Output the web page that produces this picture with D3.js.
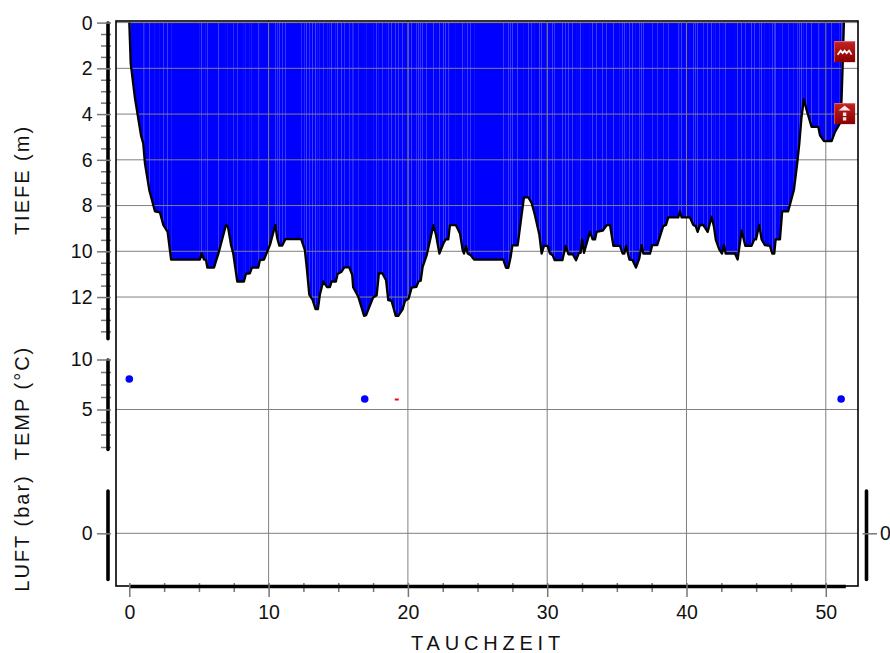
<!DOCTYPE html>
<html>
<head>
<meta charset="utf-8">
<script src="https://cdn.jsdelivr.net/npm/d3@7"></script>
<style>
  html, body { margin: 0; padding: 0; background: #fff; }
  text { font-family: "Liberation Sans", Arial, sans-serif; fill: #111; }
</style>
</head>
<body>
<svg id="chart" width="890" height="653"></svg>
<script>
// dive profile: minutes / metres
const diveTimes = [0,0.1,0.41,0.84,1,1.12,1.44,1.84,2.2,2.44,2.75,3,5.07,5.19,5.36,5.5,5.6,6.08,6.4,6.94,7.08,7.3,7.46,7.75,8.23,8.37,8.66,8.8,9.26,9.38,9.67,10.1,10.48,10.62,10.77,10.98,11.2,12.34,12.6,12.73,12.92,13.16,13.37,13.54,13.68,13.92,14.2,14.4,14.52,14.83,14.95,15.24,15.43,15.79,16,16.07,16.43,16.85,17,17.5,17.76,17.92,18.16,18.43,18.59,18.83,19.12,19.31,19.62,19.79,20.05,20.27,20.6,20.75,20.92,21.06,21.35,21.83,22.02,22.26,22.55,22.71,22.9,23.02,23.45,23.74,23.93,24.03,24.17,24.29,24.51,24.75,26.85,27.04,27.21,27.38,27.5,27.88,28.33,28.65,28.89,29.12,29.44,29.6,29.77,30.03,30.2,30.39,30.54,31.09,31.33,31.52,31.83,32.07,32.28,32.4,32.5,32.64,33.07,33.26,33.43,33.55,33.98,34.27,34.51,34.75,35.22,35.42,35.54,35.66,35.9,36.13,36.37,36.61,36.78,36.9,37.38,37.54,37.9,38.33,38.53,38.69,39.41,39.53,39.65,40.25,40.49,40.66,40.8,40.97,41.2,41.52,41.8,41.97,42.11,42.35,42.55,42.69,42.81,43.48,43.67,43.96,44.22,44.67,44.87,44.99,45.22,45.39,45.63,45.99,46.16,46.3,46.4,46.71,46.87,47.3,47.71,47.95,48.1,48.26,48.43,48.62,48.98,49.46,49.58,49.87,50.42,50.66,51.01,51.13,51.2,51.3];
const diveDepths = [0,1.78,3.32,4.93,5.28,6.14,7.34,8.25,8.3,8.85,9.15,10.36,10.36,10.09,10.36,10.36,10.71,10.71,10.09,8.85,8.92,9.72,10.09,11.32,11.32,10.99,10.96,10.71,10.71,10.38,10.36,9.72,8.85,9.43,9.75,9.75,9.47,9.47,9.94,10.66,11.9,12.13,12.53,12.53,11.9,11.32,11.57,11.57,11.32,11.32,10.99,10.89,10.7,10.7,11.03,11.57,11.97,12.82,12.79,12.02,11.92,10.96,10.96,11.26,12.14,12.17,12.82,12.82,12.54,12.17,12.07,11.59,11.56,11.33,11.29,10.68,10.17,8.86,9.29,10.1,9.66,9.48,9.48,8.86,8.86,9.22,9.95,10.1,9.76,10.1,10.17,10.36,10.36,10.72,10.72,10.24,9.74,9.74,7.64,7.64,7.9,8.42,9.29,10.1,9.76,9.76,10.1,10.17,10.39,10.39,9.76,10.13,10.13,10.39,10.07,10.07,9.48,10.07,9.15,9.48,9.48,9.15,9.1,8.86,8.86,9.76,9.76,10.1,10.1,9.76,10.36,10.39,10.71,10.32,9.73,10.1,10.1,9.73,9.73,8.9,8.85,8.52,8.52,8.25,8.52,8.52,8.85,8.9,9.15,8.85,8.85,9.15,8.49,8.93,9.51,9.92,10.1,9.73,10.1,10.1,10.36,9.1,9.76,9.76,9.48,9.48,8.85,9.48,9.73,9.76,10.1,10.1,9.48,9.48,8.25,8.25,7.32,6.14,5.28,4.12,3.35,3.82,4.56,4.56,4.93,5.18,5.18,4.78,4.41,3.39,2.08,0];

const tempTimes = [0, 16.9, 51.1];
const tempValues = [8.05, 6.05, 6.05];
const redMarkTime = 19.2;
const redMarkTemp = 6;

const eventTimes = [51.35, 51.35];
const eventDepths = [1.27, 3.98];
const eventKinds = ["wave", "ascent"];

const timeMajor = [0, 10, 20, 30, 40, 50];
const timeMinor = [2.5, 5, 7.5, 12.5, 15, 17.5, 22.5, 25, 27.5, 32.5, 35, 37.5, 42.5, 45, 47.5];
const depthMajor = [0, 2, 4, 6, 8, 10, 12];
const depthMinor = [0.5, 1, 1.5, 2.5, 3, 3.5, 4.5, 5, 5.5, 6.5, 7, 7.5, 8.5, 9, 9.5, 10.5, 11, 11.5, 12.5, 13, 13.5];
const tempMajor = [5, 10];
const tempMinor = [1.25, 2.5, 3.75, 6.25, 7.5, 8.75];
const airMajor = [0];

const svg = d3.select("#chart");
const frame = { left: 116, right: 858, top: 21, bottom: 586 };
const gridColor = "#808080";

const x = d3.scaleLinear().domain([0, 51.4]).range([129.3, 845.3]);
const yDepth = d3.scaleLinear().domain([0, 13.8]).range([22.6, 338.2]);
const yTemp = d3.scaleLinear().domain([10, 1.05]).range([359.5, 449]);
const yAir = d3.scaleLinear().domain([-1.07, 1]).range([579, 490.6]);

const profile = diveTimes.map((t, i) => ({ t: t, d: diveDepths[i] }));

// every sample gets its own slice, the hairline gaps between them are the light stripes
const slice = d3.area().x(d => x(d.t)).y0(yDepth(0)).y1(d => yDepth(d.d));
svg.append("g").selectAll("path")
  .data(d3.pairs(profile))
  .join("path")
  .attr("d", d => slice(d))
  .attr("fill", "#0000ff");

// grid
const grid = svg.append("g").attr("stroke", gridColor).attr("stroke-width", 1);
depthMajor.forEach(d => {
  grid.append("line").attr("x1", frame.left).attr("x2", frame.right)
    .attr("y1", yDepth(d)).attr("y2", yDepth(d));
});
grid.append("line").attr("x1", frame.left).attr("x2", frame.right)
  .attr("y1", yTemp(5)).attr("y2", yTemp(5));
grid.append("line").attr("x1", frame.left).attr("x2", frame.right)
  .attr("y1", yAir(0)).attr("y2", yAir(0));
timeMajor.filter(t => t > 0).forEach(t => {
  grid.append("line").attr("y1", frame.top).attr("y2", frame.bottom)
    .attr("x1", x(t)).attr("x2", x(t));
});

svg.append("path")
  .datum(profile)
  .attr("fill", "none")
  .attr("stroke", "#000")
  .attr("stroke-width", 2.3)
  .attr("stroke-linejoin", "round")
  .attr("d", d3.line().x(d => x(d.t)).y(d => yDepth(d.d)));

// frame
svg.append("rect")
  .attr("x", frame.left).attr("y", frame.top)
  .attr("width", frame.right - frame.left).attr("height", frame.bottom - frame.top)
  .attr("fill", "none").attr("stroke", "#000").attr("stroke-width", 1.6);

// temperature marks
svg.append("g").selectAll("circle")
  .data(tempTimes)
  .join("circle")
  .attr("cx", d => x(d))
  .attr("cy", (d, i) => yTemp(tempValues[i]))
  .attr("r", 3.8)
  .attr("fill", "#0000ff");
svg.append("line")
  .attr("x1", x(redMarkTime) - 2).attr("x2", x(redMarkTime) + 2)
  .attr("y1", yTemp(redMarkTemp)).attr("y2", yTemp(redMarkTemp))
  .attr("stroke", "#ff0000").attr("stroke-width", 2);

// left axes, thick bar with ticks running through it
function leftAxis(scale, major, minor) {
  const g = svg.append("g").attr("transform", "translate(107.5,0)");
  const minorAxis = d3.axisLeft(scale).tickValues(minor).tickFormat("").tickSizeOuter(0);
  const majorAxis = d3.axisLeft(scale).tickValues(major).tickFormat(d3.format("d")).tickSizeOuter(0);
  const gMinor = g.append("g").call(minorAxis);
  gMinor.selectAll("line").attr("x1", 3.5).attr("x2", -6.5).attr("stroke", "#777").attr("stroke-width", 1.5);
  gMinor.select(".domain").attr("stroke", "none");
  const gMajor = g.append("g").call(majorAxis);
  gMajor.selectAll("line").attr("x1", 3.5).attr("x2", -10.5).attr("stroke", "#777").attr("stroke-width", 1.5);
  gMajor.selectAll("text").attr("x", -15).attr("dy", "0.33em")
    .attr("font-size", 19.5).attr("font-family", null);
  gMajor.select(".domain").attr("stroke", "#000").attr("stroke-width", 3.6).attr("stroke-linecap", "round");
}
leftAxis(yDepth, depthMajor, depthMinor);
leftAxis(yTemp, tempMajor, tempMinor);
leftAxis(yAir, airMajor, []);

// right axis, air only
const gRight = svg.append("g").attr("transform", "translate(866,0)")
  .call(d3.axisRight(yAir).tickValues(airMajor).tickFormat(d3.format("d")).tickSizeOuter(0));
gRight.selectAll("line").attr("x1", -3.5).attr("x2", 11).attr("stroke", "#777").attr("stroke-width", 1.5);
gRight.selectAll("text").attr("x", 14).attr("dy", "0.33em").attr("font-size", 19.5).attr("font-family", null);
gRight.select(".domain").attr("stroke", "#000").attr("stroke-width", 3.6).attr("stroke-linecap", "round");

// bottom axis
const gBottomMinor = svg.append("g").attr("transform", `translate(0,${frame.bottom})`)
  .call(d3.axisBottom(x).tickValues(timeMinor).tickFormat("").tickSizeOuter(0));
gBottomMinor.selectAll("line").attr("y1", -3).attr("y2", 6).attr("stroke", "#777").attr("stroke-width", 1.5);
gBottomMinor.select(".domain").attr("stroke", "none");
const gBottom = svg.append("g").attr("transform", `translate(0,${frame.bottom})`)
  .call(d3.axisBottom(x).tickValues(timeMajor).tickFormat(d3.format("d")).tickSizeOuter(0));
gBottom.select(".domain").attr("stroke", "#000").attr("stroke-width", 3.6);
gBottom.selectAll("line").attr("y1", -3).attr("y2", 11).attr("stroke", "#777").attr("stroke-width", 1.5);
gBottom.selectAll("text").attr("y", 19).attr("dy", "0.71em").attr("font-size", 19.5).attr("font-family", null);

// axis titles
function sideTitle(label, cy) {
  svg.append("text")
    .attr("transform", `translate(29,${cy}) rotate(-90)`)
    .attr("text-anchor", "middle")
    .attr("font-size", 20)
    .attr("letter-spacing", 2)
    .text(label);
}
sideTitle("TIEFE (m)", 180);
sideTitle("TEMP (°C)", 403);
sideTitle("LUFT (bar)", 533);
svg.append("text")
  .attr("x", 488).attr("y", 650)
  .attr("text-anchor", "middle")
  .attr("font-size", 20)
  .attr("letter-spacing", 4.8)
  .text("TAUCHZEIT");

// event icons
const defs = svg.append("defs");
const grad = defs.append("linearGradient").attr("id", "iconRed")
  .attr("x1", 0).attr("x2", 0).attr("y1", 0).attr("y2", 1);
grad.append("stop").attr("offset", 0).attr("stop-color", "#c42222");
grad.append("stop").attr("offset", 1).attr("stop-color", "#880000");

const icons = svg.append("g").selectAll("g")
  .data(eventKinds)
  .join("g")
  .attr("transform", (d, i) => `translate(${x(eventTimes[i])},${yDepth(eventDepths[i])})`);
icons.append("rect")
  .attr("x", -10.5).attr("y", -10.5).attr("width", 21).attr("height", 21)
  .attr("fill", "url(#iconRed)");
icons.append("path")
  .attr("d", "M-10.5 -10 H10.5")
  .attr("stroke", "#e07070").attr("stroke-width", 1);
icons.append("path")
  .attr("d", "M-10 -10.5 V10.5")
  .attr("stroke", "#d05050").attr("stroke-width", 1);
icons.filter(d => d === "wave").append("path")
  .attr("d", "M-7 3 L-4 -1 L-2 1.5 L0 -1 L2 1.5 L4.5 -1 L7 3")
  .attr("fill", "none").attr("stroke", "#fff").attr("stroke-width", 1.7);
icons.filter(d => d === "ascent").append("path")
  .attr("d", "M-6 -3 L0 -8 L6 -3 Z").attr("fill", "#f4e8e8");
icons.filter(d => d === "ascent").append("path")
  .attr("d", "M0 -1 V7.5")
  .attr("stroke", "#f4e8e8").attr("stroke-width", 3.4).attr("stroke-dasharray", "3.4 1.2");
</script>
</body>
</html>
